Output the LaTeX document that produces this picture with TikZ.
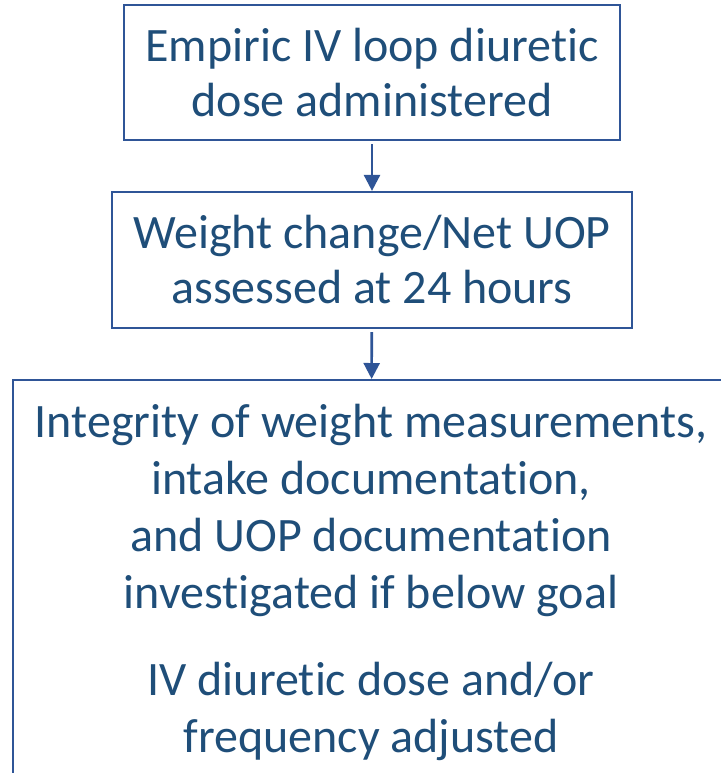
\documentclass[tikz,border=0pt]{standalone}
\usepackage{fontspec}
\setmainfont{Carlito}[Ligatures={NoCommon,NoRare,NoContextual}]
\usetikzlibrary{arrows.meta}
\definecolor{flowline}{HTML}{2F5597}
\definecolor{flowtext}{HTML}{1F4E79}
\begin{document}
\begin{tikzpicture}[x=0.5pt,y=-0.5pt,
  stepbox/.style={draw=flowline, line width=1.1pt, align=center, text=flowtext,
    font=\fontsize{24}{27.5}\selectfont, inner sep=0pt},
  flowarrow/.style={draw=flowline, line width=1.3pt,
    -{Triangle[width=8pt,length=8pt]}, shorten <=1.5pt}]
\useasboundingbox (0,0) rectangle (721,773);
\clip (0,0) rectangle (721,773);
% first two steps
\node[stepbox, minimum width=248pt, minimum height=67.5pt] (b1) at (372,72.5)
  {Empiric IV loop diuretic\\dose administered};
\node[stepbox, minimum width=260pt, minimum height=68pt] (b2) at (372,260)
  {Weight change/Net UOP\\assessed at 24 hours};
% last step runs past the lower and right edges
\node[stepbox, anchor=north, minimum width=358pt, text width=358pt,
  align=flush center, inner ysep=12pt,
  font=\fontsize{24}{28.5}\selectfont] (b3) at (371,379)
  {Integrity of weight measurements,\\
   intake documentation,\\
   and UOP documentation\\
   investigated if below goal\\[15pt]
   IV diuretic dose and/or\\
   frequency adjusted};
\draw[flowarrow] (b1) -- (b2);
\draw[flowarrow] (b2) -- (b3);
\end{tikzpicture}
\end{document}
